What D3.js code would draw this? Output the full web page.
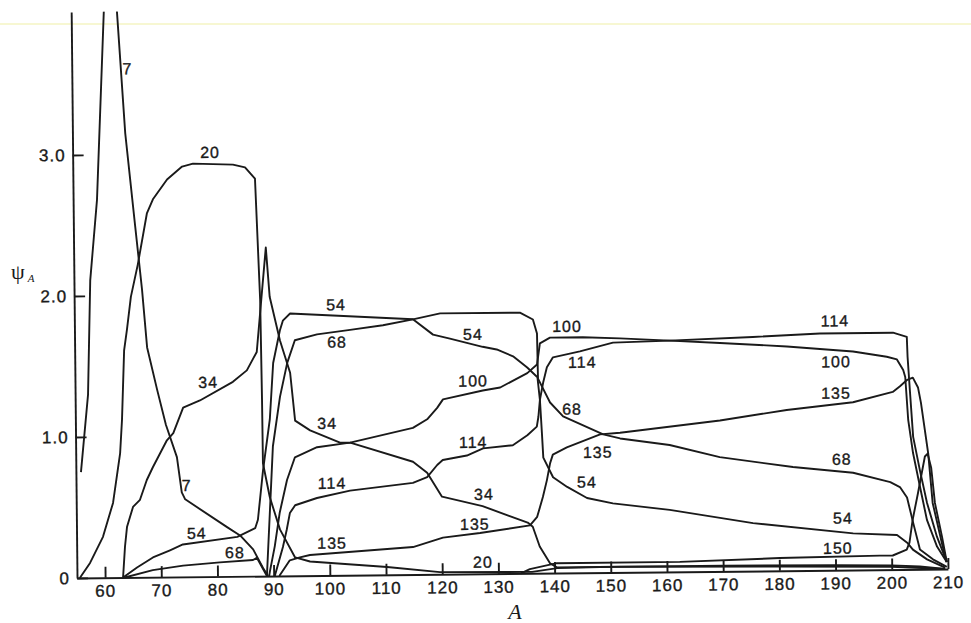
<!DOCTYPE html>
<html lang="en">
<head>
<meta charset="UTF-8">
<title>psi_A against A</title>
<script src="https://d3js.org/d3.v7.min.js"></script>
<style>
  body { margin: 0; background: #fff; }
  svg { display: block; }
  .curve { fill: none; stroke: #1a1a1a; stroke-width: 1.9px; stroke-linejoin: round; }
  .axis path, .axis line { stroke: #1a1a1a; stroke-width: 1.9px; }
  .axis text { font-family: 'Liberation Sans', Arial, sans-serif; font-size: 17px; fill: #1a1a1a; stroke: #1a1a1a; stroke-width: 0.35px; letter-spacing: 1px; }
  .curve-label { font-family: 'Liberation Sans', Arial, sans-serif; font-size: 16px; fill: #1a1a1a; stroke: #1a1a1a; stroke-width: 0.35px; letter-spacing: 1px; }
</style>
</head>
<body>
<svg width="971" height="623"></svg>
<script>
// [A, psi_A] pairs, one array per curve
const curve7 = [[55.9,0.75],[57.3,1.30],[57.9,2.11],[59.25,2.68],[60.8,4.01],[61.9,5.0],[63.15,4.01],[64.4,3.15],[66.0,2.49],[67.1,2.04],[67.9,1.63],[69.6,1.33],[71.1,1.08],[73.0,0.85],[73.8,0.60],[74.4,0.55],[81.8,0.35],[84.1,0.29],[86.4,0.19],[88.1,0.06],[89.0,0.0]];
const curve20 = [[55.5,0],[57.35,0.106],[59.7,0.29],[61.55,0.53],[62.9,0.88],[63.3,1.12],[63.8,1.61],[64.35,1.76],[65.1,1.99],[66.4,2.22],[68.1,2.58],[69.2,2.68],[71.75,2.82],[74.45,2.91],[76.4,2.93],[83.5,2.92],[85.65,2.90],[87.4,2.82],[88.1,1.96],[88.25,1.25],[88.3,0.80],[89.45,0.56],[91.2,0.33],[93.85,0.13],[96.5,0.10],[110.2,0.055],[119.6,0.015],[136,0.01],[140.5,0.035],[150,0.04],[170,0.04],[190,0.035],[200,0.03],[205,0.02],[209.5,0]];
const curve34 = [[63.2,0],[63.6,0.22],[64.0,0.36],[65.1,0.50],[66.35,0.55],[67.6,0.69],[68.7,0.78],[71.25,0.97],[72.4,1.02],[74.2,1.20],[77.2,1.25],[83.1,1.38],[85.6,1.46],[87.4,1.59],[89.2,2.33],[89.8,1.98],[91.55,1.67],[93.3,1.44],[94.1,1.10],[96.75,1.03],[102.05,0.94],[103.85,0.94],[115.0,0.80],[117.5,0.72],[120.1,0.55],[127.3,0.48],[135.3,0.36],[136.2,0.33],[137.4,0.19],[139.2,0.07],[140.4,0.04],[151.6,0.04],[180,0.03],[200,0.02],[209.5,0]];
const curve54 = [[63.2,0],[65.7,0.07],[68.55,0.14],[71.6,0.19],[73.9,0.23],[83.6,0.28],[86.8,0.34],[87.3,0.40],[88.3,0.75],[89.6,1.11],[90.3,1.51],[91.55,1.74],[92.1,1.81],[93.4,1.86],[115.25,1.81],[118.8,1.70],[121.8,1.67],[127.6,1.61],[130.1,1.59],[133.0,1.54],[135.5,1.46],[137.3,1.39],[137.7,1.23],[138.0,0.99],[138.2,0.82],[139.9,0.68],[142.4,0.61],[145.9,0.53],[150.5,0.49],[160.6,0.44],[175.4,0.34],[193.2,0.26],[201.0,0.245],[202.8,0.19],[203.8,0.14],[206.3,0.07],[209.5,0.01]];
const curve68 = [[63.5,0],[68.5,0.05],[73.9,0.08],[80.45,0.10],[86.35,0.115],[87.05,0.13],[88.8,0],[90.1,0.92],[91.45,1.27],[92.8,1.51],[94.2,1.67],[98.15,1.71],[104.05,1.74],[109.9,1.77],[115.25,1.81],[120.1,1.85],[134.3,1.85],[136.6,1.80],[137.3,1.70],[137.4,1.38],[139.5,1.21],[141.8,1.11],[148.9,0.98],[151.9,0.95],[160.7,0.90],[169.6,0.81],[182.6,0.735],[193.3,0.69],[199.9,0.62],[201.6,0.585],[202.85,0.51],[203.9,0.33],[205.05,0.14],[207.35,0.07],[209.8,0.015]];
const curve100 = [[89.2,0],[89.35,0.035],[90.25,0.21],[91.2,0.45],[92.55,0.68],[94.0,0.84],[97.95,0.91],[103.85,0.94],[115.05,1.04],[117.6,1.10],[119.4,1.18],[120.45,1.24],[127.55,1.30],[130.65,1.32],[135.5,1.42],[137.25,1.48],[137.8,1.63],[139.6,1.67],[145.45,1.67],[152.05,1.66],[160.95,1.64],[169.85,1.62],[181.75,1.59],[193.5,1.55],[199.5,1.51],[201.3,1.49],[202.4,1.415],[202.75,1.365],[203.2,1.06],[204.0,0.825],[205.2,0.58],[206.35,0.35],[208.1,0.16],[209.8,0.05]];
const curve114 = [[90.2,0],[91.7,0.205],[92.4,0.325],[93.0,0.445],[93.95,0.50],[97.85,0.55],[103.75,0.60],[114.95,0.65],[117.5,0.69],[119.3,0.775],[120.3,0.81],[124.6,0.84],[127.5,0.89],[132.8,0.91],[135.4,0.98],[137.1,1.04],[137.4,1.11],[137.7,1.23],[138.3,1.35],[139.0,1.46],[140.1,1.53],[144.9,1.57],[150.8,1.63],[160.95,1.64],[175.7,1.66],[187.65,1.68],[200.65,1.68],[203.1,1.65],[203.2,1.51],[203.55,1.27],[204.05,0.94],[205.2,0.70],[206.4,0.47],[208.1,0.23],[209.8,0.05]];
const curve135 = [[91.0,0],[92.9,0.11],[94.7,0.13],[96.5,0.146],[114.85,0.195],[120.2,0.26],[126.8,0.29],[135.7,0.34],[137.0,0.40],[138.05,0.54],[138.8,0.66],[139.4,0.78],[139.9,0.84],[142.4,0.89],[148.35,0.98],[151.9,0.99],[169.7,1.07],[181.6,1.14],[193.4,1.19],[200.5,1.26],[201.8,1.30],[203.1,1.345],[204.1,1.36],[205.0,1.29],[205.5,1.18],[206.7,0.82],[207.4,0.47],[209.1,0.16],[209.8,0.05]];
const curve150 = [[134,0],[135.6,0.03],[140.4,0.07],[162.3,0.07],[180.1,0.09],[197.9,0.10],[200.2,0.10],[202.7,0.14],[203.2,0.19],[203.8,0.35],[204.8,0.54],[206.1,0.80],[206.6,0.82],[207.2,0.72],[207.8,0.47],[209.0,0.23],[209.8,0.05]];

const xTicks = [60, 70, 80, 90, 100, 110, 120, 130, 140, 150, 160, 170, 180, 190, 200, 210];
const yTicks = [0, 1, 2, 3];
const yTickLabels = ["0", "1.0", "2.0", "3.0"];

// curve labels: text, A, psi
const curveLabels = [
  ["7", 64.9, 3.61], ["7", 74.7, 0.65], ["20", 79.45, 3.01], ["34", 78.7, 1.38],
  ["54", 76.4, 0.31], ["68", 83.15, 0.17], ["54", 101.6, 1.92], ["68", 101.7, 1.655],
  ["54", 125.9, 1.70], ["100", 125.85, 1.37], ["34", 99.8, 1.08], ["114", 125.75, 0.935],
  ["114", 100.55, 0.655], ["34", 127.55, 0.566], ["135", 125.9, 0.354], ["135", 100.45, 0.23],
  ["20", 127.25, 0.084], ["100", 142.65, 1.75], ["114", 145.3, 1.495], ["68", 143.4, 1.163],
  ["135", 147.9, 0.855], ["54", 145.9, 0.644], ["114", 190.35, 1.77], ["100", 190.45, 1.48],
  ["135", 190.4, 1.257], ["68", 191.3, 0.788], ["54", 191.4, 0.37], ["150", 190.45, 0.157]
];

const curves = [curve7, curve20, curve34, curve54, curve68, curve100, curve114, curve135, curve150];

const svg = d3.select("svg");
const width = 871, height = 566;

// faint yellow streak across the top of the scan
svg.append("rect").attr("x", 0).attr("y", 23).attr("width", 971).attr("height", 2).attr("fill", "#f7f7d2");

// the scanned page is tilted a little
const chart = svg.append("g").attr("transform", "translate(77,578) rotate(-0.59)");

const x = d3.scaleLinear().domain([55, 210]).range([0, width]);
const y = d3.scaleLinear().domain([0, height / 141]).range([0, -height]);

chart.append("defs").append("clipPath").attr("id", "plot-clip")
  .append("rect").attr("x", -2).attr("y", -height).attr("width", width + 10).attr("height", height + 6);

const line = d3.line().x(d => x(d[0])).y(d => y(d[1]));

chart.append("g").attr("clip-path", "url(#plot-clip)")
  .selectAll("path")
  .data(curves)
  .enter().append("path")
    .attr("class", "curve")
    .attr("d", line);

chart.append("g")
  .attr("class", "axis")
  .call(d3.axisBottom(x).tickValues(xTicks).tickSize(-11).tickSizeOuter(0).tickPadding(7))
  .call(g => g.selectAll("text").attr("dy", "0.71em"));

chart.append("g")
  .attr("class", "axis")
  .call(d3.axisLeft(y).tickValues(yTicks).tickFormat((d, i) => yTickLabels[i]).tickSize(-11).tickSizeOuter(0).tickPadding(7));

chart.append("g")
  .selectAll("text")
  .data(curveLabels)
  .enter().append("text")
    .attr("class", "curve-label")
    .attr("x", d => x(d[1]))
    .attr("y", d => y(d[2]))
    .attr("dy", "0.36em")
    .attr("text-anchor", "middle")
    .text(d => d[0]);

// axis titles
const yTitle = svg.append("text")
  .attr("x", 11).attr("y", 279)
  .style("font-family", "'Liberation Serif', 'DejaVu Serif', serif")
  .style("font-size", "22px")
  .attr("fill", "#1a1a1a");
yTitle.append("tspan").text("ψ");
yTitle.append("tspan").attr("dx", 3).attr("dy", 3).style("font-size", "11px").style("font-style", "italic").text("A");

svg.append("text")
  .attr("x", 515).attr("y", 619)
  .attr("text-anchor", "middle")
  .style("font-family", "'Liberation Serif', 'DejaVu Serif', serif")
  .style("font-style", "italic")
  .style("font-size", "22px")
  .attr("fill", "#1a1a1a")
  .text("A");
</script>
</body>
</html>
